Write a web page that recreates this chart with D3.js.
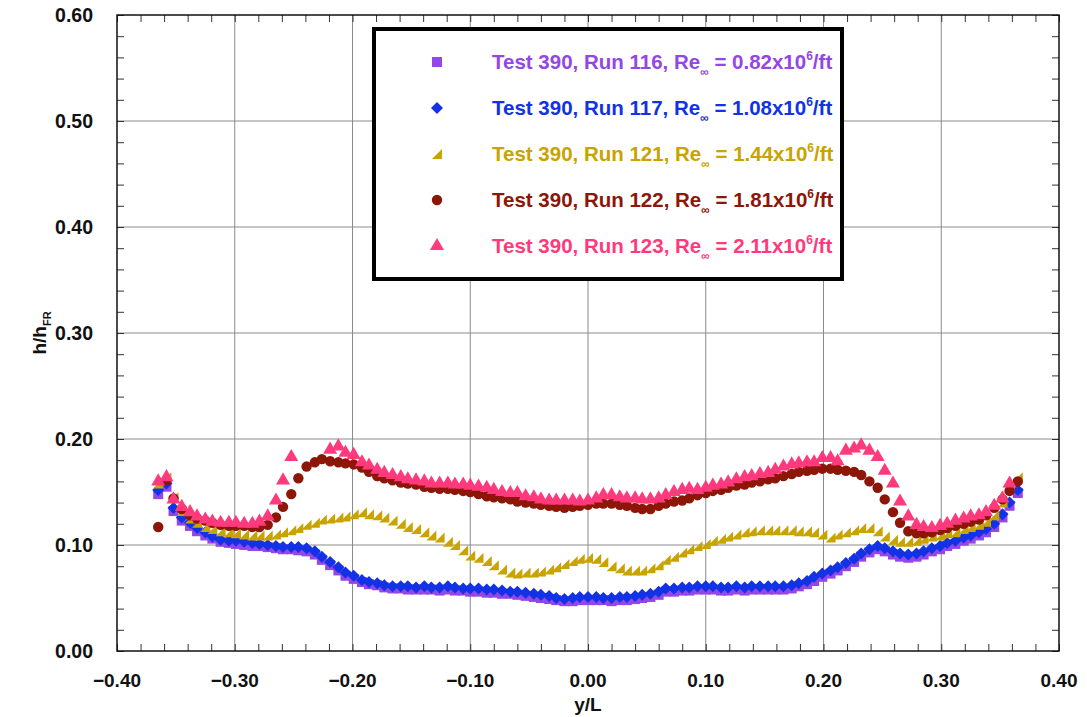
<!DOCTYPE html>
<html><head><meta charset="utf-8">
<script src="https://cdn.jsdelivr.net/npm/d3@7"></script>
<style>body{margin:0;background:#fff}svg{display:block}text{font-family:"Liberation Sans",Arial,Helvetica,sans-serif;font-weight:bold}</style>
</head><body><svg id="c" width="1087" height="717"></svg>
<script>
const xVals = [-0.365,-0.358,-0.352,-0.345,-0.338,-0.332,-0.325,-0.319,-0.312,-0.305,
-0.299,-0.292,-0.285,-0.279,-0.272,-0.265,-0.259,-0.252,-0.246,-0.239,
-0.232,-0.226,-0.219,-0.212,-0.206,-0.199,-0.192,-0.186,-0.179,-0.173,
-0.166,-0.159,-0.153,-0.146,-0.139,-0.133,-0.126,-0.119,-0.113,-0.106,
-0.100,-0.093,-0.086,-0.080,-0.073,-0.066,-0.060,-0.053,-0.046,-0.040,
-0.033,-0.027,-0.020,-0.013,-0.007,0.000,0.007,0.013,0.020,0.027,
0.033,0.040,0.046,0.053,0.060,0.066,0.073,0.080,0.086,0.093,
0.100,0.106,0.113,0.119,0.126,0.133,0.139,0.146,0.153,0.159,
0.166,0.173,0.179,0.186,0.192,0.199,0.206,0.212,0.219,0.226,
0.232,0.239,0.246,0.252,0.259,0.265,0.272,0.279,0.285,0.292,
0.299,0.305,0.312,0.319,0.325,0.332,0.338,0.345,0.352,0.358,0.365];

const run116 = [0.148,0.155,0.132,0.123,0.118,0.113,0.109,0.106,0.103,0.102,
0.101,0.100,0.099,0.099,0.098,0.097,0.096,0.096,0.095,0.094,
0.091,0.086,0.081,0.076,0.071,0.068,0.065,0.063,0.062,0.060,
0.059,0.059,0.058,0.058,0.058,0.058,0.057,0.058,0.057,0.057,
0.056,0.056,0.055,0.055,0.054,0.054,0.053,0.052,0.051,0.050,
0.049,0.048,0.047,0.047,0.048,0.048,0.048,0.048,0.047,0.048,
0.048,0.049,0.050,0.051,0.053,0.056,0.056,0.057,0.057,0.058,
0.058,0.058,0.057,0.057,0.058,0.057,0.058,0.058,0.058,0.058,
0.058,0.059,0.061,0.063,0.066,0.070,0.073,0.076,0.080,0.084,
0.089,0.093,0.096,0.094,0.091,0.089,0.088,0.089,0.091,0.094,
0.096,0.099,0.101,0.104,0.106,0.109,0.112,0.117,0.126,0.137,0.149];

const run117 = [0.152,0.158,0.135,0.126,0.121,0.116,0.112,0.108,0.105,0.104,
0.104,0.103,0.102,0.101,0.100,0.099,0.098,0.098,0.098,0.097,
0.094,0.089,0.084,0.079,0.074,0.071,0.067,0.065,0.064,0.062,
0.061,0.061,0.061,0.060,0.061,0.060,0.060,0.061,0.060,0.059,
0.059,0.059,0.058,0.058,0.057,0.056,0.056,0.055,0.054,0.053,
0.052,0.050,0.049,0.050,0.051,0.051,0.051,0.050,0.050,0.051,
0.051,0.052,0.053,0.054,0.056,0.059,0.059,0.060,0.060,0.061,
0.061,0.061,0.060,0.060,0.061,0.060,0.061,0.061,0.061,0.061,
0.061,0.062,0.064,0.066,0.070,0.073,0.076,0.079,0.083,0.087,
0.092,0.096,0.099,0.097,0.094,0.092,0.091,0.092,0.094,0.097,
0.099,0.102,0.104,0.107,0.109,0.112,0.115,0.120,0.129,0.140,0.152];

const run121 = [0.158,0.164,0.145,0.132,0.125,0.121,0.117,0.115,0.113,0.112,
0.111,0.110,0.109,0.109,0.109,0.110,0.112,0.114,0.116,0.119,
0.121,0.124,0.125,0.126,0.127,0.129,0.131,0.129,0.128,0.126,
0.123,0.120,0.117,0.115,0.112,0.109,0.107,0.103,0.100,0.095,
0.090,0.088,0.085,0.081,0.077,0.074,0.073,0.074,0.074,0.075,
0.077,0.079,0.082,0.085,0.087,0.088,0.087,0.084,0.080,0.078,
0.076,0.076,0.076,0.078,0.081,0.086,0.089,0.093,0.096,0.099,
0.101,0.104,0.106,0.108,0.110,0.112,0.113,0.114,0.114,0.114,
0.114,0.114,0.113,0.113,0.112,0.110,0.107,0.110,0.112,0.114,
0.116,0.116,0.113,0.108,0.105,0.103,0.103,0.104,0.106,0.108,
0.109,0.111,0.112,0.115,0.117,0.119,0.122,0.128,0.140,0.155,0.164];

const run122 = [0.117,0.161,0.144,0.134,0.128,0.125,0.123,0.121,0.119,0.118,
0.118,0.118,0.117,0.117,0.119,0.126,0.136,0.148,0.163,0.174,
0.178,0.181,0.179,0.178,0.177,0.176,0.173,0.169,0.165,0.163,
0.161,0.159,0.158,0.157,0.155,0.154,0.153,0.153,0.152,0.151,
0.150,0.148,0.146,0.145,0.144,0.143,0.141,0.140,0.139,0.138,
0.137,0.136,0.135,0.136,0.137,0.138,0.139,0.139,0.139,0.138,
0.137,0.135,0.134,0.134,0.137,0.139,0.141,0.142,0.144,0.147,
0.149,0.151,0.152,0.154,0.156,0.157,0.159,0.160,0.162,0.163,
0.165,0.167,0.169,0.170,0.171,0.172,0.172,0.171,0.170,0.169,
0.166,0.160,0.154,0.143,0.131,0.121,0.113,0.111,0.111,0.112,
0.114,0.116,0.118,0.120,0.122,0.124,0.128,0.135,0.143,0.151,0.160];

const run123 = [0.160,0.164,0.143,0.136,0.131,0.127,0.124,0.122,0.121,0.121,
0.121,0.120,0.120,0.122,0.127,0.142,0.161,0.183,null,null,
null,null,0.190,0.193,0.187,0.185,0.178,0.175,0.171,0.168,
0.166,0.164,0.162,0.161,0.160,0.158,0.158,0.158,0.157,0.157,
0.156,0.155,0.154,0.152,0.150,0.149,0.149,0.146,0.145,0.143,
0.142,0.142,0.142,0.142,0.141,0.142,0.144,0.147,0.147,0.145,
0.144,0.144,0.143,0.143,0.144,0.147,0.150,0.152,0.153,0.152,
0.154,0.156,0.157,0.159,0.162,0.164,0.165,0.167,0.168,0.171,
0.174,0.176,0.177,0.178,0.178,0.182,0.182,0.179,0.189,0.191,
0.194,0.189,0.183,0.170,0.158,0.141,0.127,0.119,0.117,0.116,
0.118,0.120,0.123,0.125,0.127,0.128,0.131,0.137,0.144,0.158,null];

const seriesNames = ["Test 390, Run 116", "Test 390, Run 117", "Test 390, Run 121", "Test 390, Run 122", "Test 390, Run 123"];
const reValues = ["0.82", "1.08", "1.44", "1.81", "2.11"];
const xTicks = [-0.4,-0.3,-0.2,-0.1,0,0.1,0.2,0.3,0.4];
const yTicks = [0,0.1,0.2,0.3,0.4,0.5,0.6];

const colors = ["#9446e6", "#1232e6", "#c9a300", "#8c1608", "#ff3a7c"];
const shapes = ["square", "diamond", "rtri", "circle", "tri"];
const dataSets = [run116, run117, run121, run122, run123];

const svg = d3.select("#c");
const L = 117, R = 1059, T = 15, B = 651;
const x = d3.scaleLinear().domain([-0.4, 0.4]).range([L, R]);
const y = d3.scaleLinear().domain([0, 0.6]).range([B, T]);

// gridlines
const grid = svg.append("g").attr("stroke", "#8a8a8a").attr("stroke-width", 1);
xTicks.slice(1, -1).forEach(v => grid.append("line").attr("x1", x(v)).attr("x2", x(v)).attr("y1", T).attr("y2", B));
yTicks.slice(1, -1).forEach(v => grid.append("line").attr("y1", y(v)).attr("y2", y(v)).attr("x1", L).attr("x2", R));

// minor ticks inward via axes
const xMinor = d3.range(-0.4, 0.4001, 0.02);
const yMinor = d3.range(0, 0.6001, 0.02);
const tk = 7;
svg.append("g").attr("transform", `translate(0,${B})`).call(d3.axisTop(x).tickValues(xMinor).tickSize(tk).tickFormat(""))
  .call(g => { g.select(".domain").remove(); g.selectAll("line").attr("stroke", "#333"); });
svg.append("g").attr("transform", `translate(0,${T})`).call(d3.axisBottom(x).tickValues(xMinor).tickSize(tk).tickFormat(""))
  .call(g => { g.select(".domain").remove(); g.selectAll("line").attr("stroke", "#333"); });
svg.append("g").attr("transform", `translate(${L},0)`).call(d3.axisRight(y).tickValues(yMinor).tickSize(tk).tickFormat(""))
  .call(g => { g.select(".domain").remove(); g.selectAll("line").attr("stroke", "#333"); });
svg.append("g").attr("transform", `translate(${R},0)`).call(d3.axisLeft(y).tickValues(yMinor).tickSize(tk).tickFormat(""))
  .call(g => { g.select(".domain").remove(); g.selectAll("line").attr("stroke", "#333"); });

// tick labels
const fmt = d3.format(".2f");
svg.append("g").selectAll("text").data(xTicks).join("text")
  .attr("x", d => x(d)).attr("y", 687).attr("text-anchor", "middle").attr("font-size", 19).attr("fill", "#111")
  .text(d => fmt(d));
svg.append("g").selectAll("text").data(yTicks).join("text")
  .attr("x", 93).attr("y", d => y(d) + 7).attr("text-anchor", "end").attr("font-size", 19.5).attr("fill", "#111")
  .text(d => fmt(d));

// axis titles
svg.append("text").attr("x", (L + R) / 2).attr("y", 711).attr("text-anchor", "middle").attr("font-size", 19).attr("fill", "#111").text("y/L");
const yt = svg.append("text").attr("transform", "translate(46,333) rotate(-90)").attr("text-anchor", "middle").attr("font-size", 19).attr("fill", "#111");
yt.append("tspan").text("h/h");
yt.append("tspan").attr("font-size", 11).attr("dy", 5).text("FR");

// marker path generator
function markerPath(shape, s) {
  const h = s / 2;
  if (shape === "square") return d3.symbol(d3.symbolSquare, s * s)();
  if (shape === "diamond") return `M0,${-h - 1}L${h + 1},0L0,${h + 1}L${-h - 1},0Z`;
  if (shape === "circle") return d3.symbol(d3.symbolCircle, s * s * 0.85)();
  if (shape === "tri") return d3.symbol(d3.symbolTriangle, s * s * 0.85)();
  return `M${-h},${h}L${h},${h}L${h},${-h}Z`;
}

// data points
dataSets.forEach((arr, k) => {
  const pts = xVals.map((xv, i) => ({ x: xv, v: arr[i] })).filter(d => d.v !== null);
  svg.append("g").selectAll("path").data(pts).join("path")
    .attr("transform", d => `translate(${x(d.x)},${y(d.v)})`)
    .attr("d", markerPath(shapes[k], 10))
    .attr("fill", colors[k]);
});

// frame
svg.append("rect").attr("x", L).attr("y", T).attr("width", R - L).attr("height", B - T)
  .attr("fill", "none").attr("stroke", "#111").attr("stroke-width", 1.5);

// legend
const lg = svg.append("g");
lg.append("rect").attr("x", 374).attr("y", 29).attr("width", 468).attr("height", 250)
  .attr("fill", "#fff").attr("stroke", "#000").attr("stroke-width", 4);
const rowY = [62, 108, 154, 200, 246];
seriesNames.forEach((nm, k) => {
  lg.append("path").attr("transform", `translate(437,${rowY[k]})`).attr("d", markerPath(shapes[k], 10)).attr("fill", colors[k]);
  const t = lg.append("text").attr("x", 492).attr("y", rowY[k] + 7).attr("font-size", 20.5).attr("fill", colors[k]);
  t.append("tspan").text(nm + ", Re");
  t.append("tspan").attr("font-size", 12).attr("dy", 7).text("\u221E");
  t.append("tspan").attr("dy", -7).text(" = " + reValues[k] + "x10");
  t.append("tspan").attr("font-size", 12).attr("dy", -9).text("6");
  t.append("tspan").attr("dy", 9).text("/ft");
});
</script></body></html>
